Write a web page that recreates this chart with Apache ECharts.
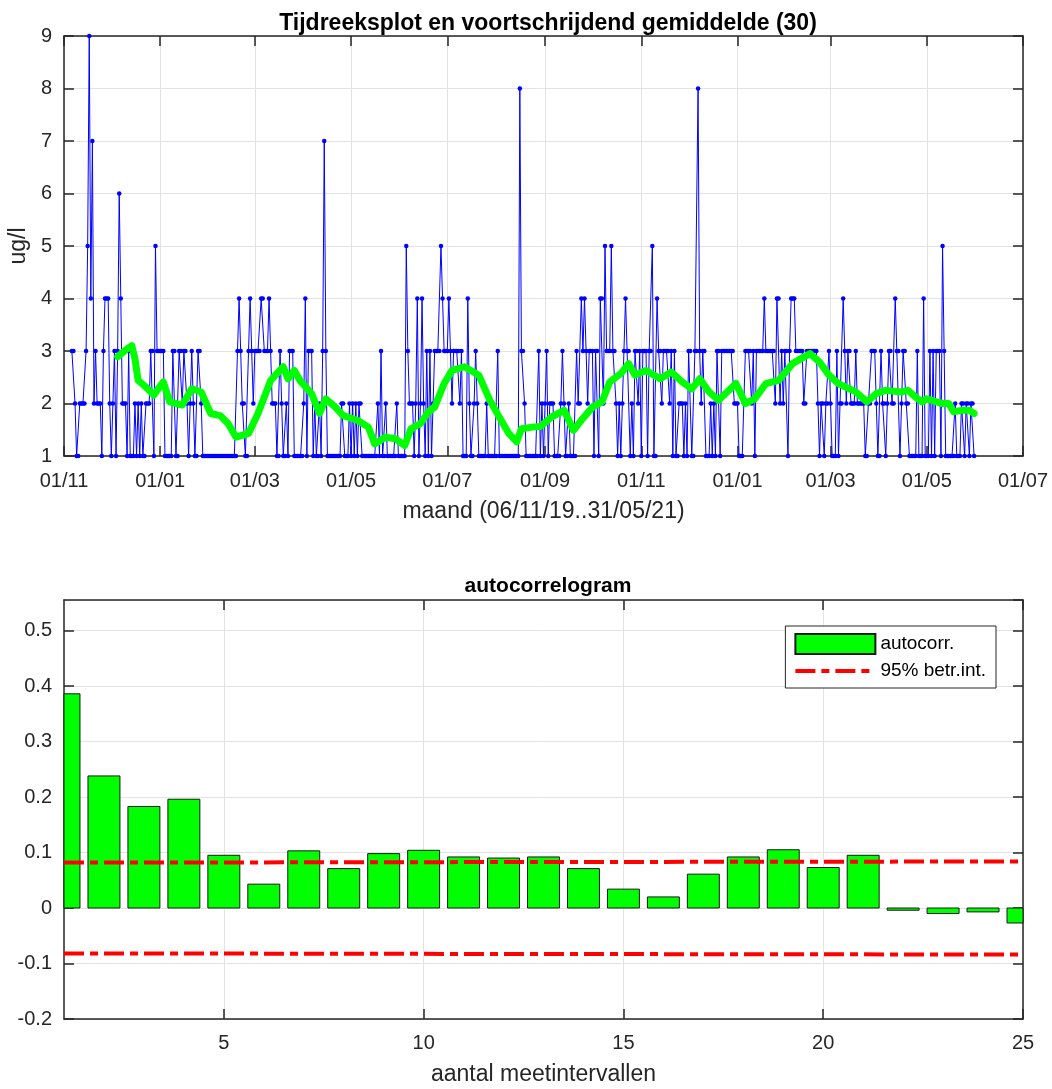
<!DOCTYPE html>
<html>
<head>
<meta charset="utf-8">
<script src="https://cdn.jsdelivr.net/npm/echarts@6/dist/echarts.min.js"></script>
<style>
html,body{margin:0;padding:0;background:#fff;}
#chart{width:1052px;height:1089px;}
</style>
</head>
<body>
<div id="chart"></div>
<script>
// ---------- DATA ----------
// x-axis tick positions and labels (top chart)
const xTickDates = ['2019-11-01','2020-01-01','2020-03-01','2020-05-01','2020-07-01','2020-09-01','2020-11-01','2021-01-01','2021-03-01','2021-05-01','2021-07-01'];
const xTickLabels = ['01/11','01/01','01/03','01/05','01/07','01/09','01/11','01/01','01/03','01/05','01/07'];
const yTickTop = [1,2,3,4,5,6,7,8,9];

// daily measurements (ug/l), first value on 2019-11-06
const seriesStart = '2019-11-06';
const measValues = [
  3,3,2,1,1,2,2,2,2,3,
  5,9,4,7,2,3,2,2,2,1,
  3,4,4,4,2,1,2,3,1,3,
  6,4,2,2,2,1,3,1,1,1,
  2,1,2,1,2,1,1,2,2,2,
  3,3,1,5,3,3,3,3,3,1,
  1,1,1,1,3,3,1,1,3,3,
  2,3,3,2,1,2,3,2,1,1,
  3,3,2,1,1,1,1,1,1,1,
  1,1,1,1,1,1,1,1,1,1,
  1,1,1,1,1,3,4,3,2,2,
  1,1,3,4,3,2,3,3,3,3,
  4,4,3,3,3,4,3,2,2,2,
  1,1,3,2,1,1,2,1,3,3,
  3,1,1,1,1,1,1,2,4,1,
  3,3,3,1,2,1,1,2,1,3,
  7,3,1,1,1,1,1,1,1,1,
  1,2,2,1,1,1,2,1,2,1,
  2,1,2,2,1,1,1,1,1,1,
  1,1,1,1,2,1,3,1,1,2,
  1,1,1,1,1,1,2,1,1,1,
  1,1,5,3,2,2,2,1,2,4,
  1,2,4,2,1,3,1,3,1,2,
  3,3,3,3,5,4,3,3,3,4,
  3,2,3,3,3,3,2,3,1,1,
  1,4,2,1,1,2,3,2,1,1,
  1,1,1,2,1,1,1,1,1,1,
  3,1,1,1,1,1,1,1,1,1,
  1,1,1,1,8,3,3,2,1,1,
  1,1,1,1,1,1,3,1,2,1,
  2,3,1,2,2,2,1,1,1,1,
  2,3,2,1,1,2,1,1,1,1,
  3,2,2,4,3,4,3,2,3,3,
  3,1,3,3,1,4,4,2,5,3,
  3,3,5,3,3,2,1,2,1,2,
  3,4,3,3,1,2,1,3,3,2,
  3,1,3,3,3,1,3,3,5,1,
  1,4,3,3,2,3,3,3,3,2,
  3,1,3,1,1,2,2,2,1,2,
  1,3,3,1,1,3,3,8,3,2,
  3,3,1,1,1,2,1,2,1,3,
  3,1,3,3,3,3,3,3,3,3,
  2,2,2,1,1,1,2,3,3,3,
  3,2,3,1,3,3,3,3,3,4,
  3,3,3,3,3,3,2,4,4,2,
  3,2,3,3,1,3,4,4,4,3,
  3,3,3,3,2,2,3,3,3,3,
  3,3,3,2,1,2,2,1,2,2,
  3,2,1,1,1,3,1,2,2,4,
  3,2,3,3,2,2,2,3,2,2,
  2,2,2,1,1,2,2,3,3,3,
  2,1,1,3,2,2,1,2,3,3,
  2,2,4,3,3,1,2,3,3,2,
  2,1,1,1,1,1,3,1,1,1,
  4,1,1,1,3,1,3,1,3,3,
  3,1,5,3,1,1,1,1,1,1,
  2,1,1,1,2,2,1,2,2,1,
  2,2,1
];

// moving average (30)
const maDates = ['2019-12-05','2019-12-11','2019-12-14','2019-12-16','2019-12-18','2019-12-23','2019-12-28','2019-12-30',
  '2020-01-03','2020-01-07','2020-01-15','2020-01-21','2020-01-27','2020-02-02','2020-02-08','2020-02-13','2020-02-18','2020-02-26',
  '2020-03-03','2020-03-11','2020-03-19','2020-03-22','2020-03-26','2020-03-30','2020-04-06','2020-04-11','2020-04-15','2020-04-21','2020-04-26',
  '2020-05-05','2020-05-12','2020-05-16','2020-05-23','2020-05-29','2020-06-04','2020-06-08','2020-06-14','2020-06-19','2020-06-23','2020-06-29',
  '2020-07-04','2020-07-12','2020-07-21','2020-07-28','2020-08-03','2020-08-09','2020-08-14','2020-08-17','2020-08-24','2020-08-29',
  '2020-09-05','2020-09-13','2020-09-19','2020-09-24','2020-10-01','2020-10-07','2020-10-12','2020-10-19','2020-10-24','2020-10-28',
  '2020-11-04','2020-11-13','2020-11-20','2020-11-27','2020-12-03','2020-12-08','2020-12-14','2020-12-20','2020-12-31',
  '2021-01-06','2021-01-12','2021-01-19','2021-01-27','2021-02-05','2021-02-10','2021-02-16','2021-02-22','2021-02-28',
  '2021-03-06','2021-03-17','2021-03-24','2021-03-30','2021-04-05','2021-04-15','2021-04-19','2021-04-24','2021-04-28',
  '2021-05-01','2021-05-07','2021-05-11','2021-05-15','2021-05-18','2021-05-23','2021-05-28','2021-05-31'];
const maValues = [2.89,3.04,3.10,2.85,2.44,2.31,2.16,2.25,
  2.41,2.03,1.97,2.28,2.22,1.81,1.77,1.62,1.36,1.43,
  1.81,2.44,2.70,2.47,2.63,2.42,2.19,1.81,2.09,1.93,1.77,
  1.68,1.55,1.23,1.36,1.33,1.20,1.52,1.62,1.84,1.93,2.38,
  2.63,2.70,2.54,2.06,1.74,1.43,1.27,1.52,1.55,1.56,
  1.74,1.87,1.49,1.68,1.93,2.03,2.41,2.57,2.76,2.54,
  2.63,2.47,2.60,2.41,2.28,2.47,2.22,2.06,2.38,
  2.00,2.09,2.38,2.44,2.76,2.85,2.95,2.79,2.54,
  2.38,2.22,2.03,2.19,2.25,2.22,2.25,2.12,2.03,
  2.09,2.03,2.00,2.00,1.84,1.87,1.87,1.81];

// autocorrelogram
const lags = ['1','2','3','4','5','6','7','8','9','10','11','12','13','14','15','16','17','18','19','20','21','22','23','24','25'];
const lagTickLabels = ['5','10','15','20','25'];
const acfValues = [0.386,0.238,0.183,0.196,0.095,0.043,0.103,0.071,0.098,0.104,0.092,0.090,0.092,0.071,0.034,0.020,0.061,0.092,0.105,0.073,0.095,-0.004,-0.010,-0.007,-0.027];
const confUpper = [0.082,0.082,0.082,0.082,0.0822,0.0822,0.0823,0.0824,0.0825,0.0826,0.0827,0.0828,0.0829,0.083,0.083,0.0831,0.0832,0.0833,0.0834,0.0835,0.0835,0.0836,0.0837,0.0837,0.0838];
const confLower = [-0.082,-0.082,-0.082,-0.082,-0.0822,-0.0822,-0.0823,-0.0824,-0.0825,-0.0826,-0.0827,-0.0828,-0.0829,-0.083,-0.083,-0.0831,-0.0832,-0.0833,-0.0834,-0.0835,-0.0835,-0.0836,-0.0837,-0.0837,-0.0838];

// ---------- BUILD ----------
const DAY = 86400000;
function pad(n){return (n<10?'0':'')+n;}
function fmtDate(t){const d=new Date(t);return d.getUTCFullYear()+'-'+pad(d.getUTCMonth()+1)+'-'+pad(d.getUTCDate());}
function parseDate(s){const p=s.split('-');return Date.UTC(+p[0],+p[1]-1,+p[2]);}

const dayCats = [];
for (let t = parseDate(xTickDates[0]); t <= parseDate(xTickDates[xTickDates.length-1]); t += DAY) dayCats.push(fmtDate(t));
const tickSet = new Set(xTickDates);
const tickLabelMap = {};
xTickDates.forEach((d,i)=>{tickLabelMap[d]=xTickLabels[i];});
const t0 = parseDate(seriesStart);
const measData = measValues.map((v,i)=>[fmtDate(t0+i*DAY), v]);
const maData = maDates.map((d,i)=>[d, maValues[i]]);
const lagTickSet = new Set(lagTickLabels);
const acfData = acfValues.map((v,i)=>[i, v]);

const FONT = 'Liberation Sans, Arial, sans-serif';
const TXT = '#262626';
const FRAME = {show:true, onZero:false, lineStyle:{color:TXT, width:1.5}};
const GRIDLINE = {show:true, lineStyle:{color:'#e3e3e3', width:1}};
const LBL = {color:TXT, fontSize:20, fontFamily:FONT};
const NAME = {fontSize:23, color:TXT, fontFamily:FONT};
const DASHDOT = [20,6,8,6];

function renderBar(params, api){
  const x = api.value(0), y = api.value(1);
  const p0 = api.coord([x, 0]);
  const p1 = api.coord([x, y]);
  const w = api.size([1, 0])[0] * 0.8;
  const cs = params.coordSys;
  const rect = echarts.graphic.clipRectByRect(
    {x:p0[0]-w/2, y:Math.min(p0[1],p1[1]), width:w, height:Math.abs(p1[1]-p0[1])},
    {x:cs.x, y:cs.y, width:cs.width, height:cs.height});
  return rect && {type:'rect', shape:rect, style:api.style()};
}

const chart = echarts.init(document.getElementById('chart'), null, {renderer:'canvas'});
const option = {
  backgroundColor:'#ffffff',
  animation:false,
  title:[
    {text:'Tijdreeksplot en voortschrijdend gemiddelde (30)', left:543, top:7, textAlign:'center',
     textStyle:{fontSize:23, fontWeight:'bold', color:'#000', fontFamily:FONT}},
    {text:'autocorrelogram', left:543, top:571, textAlign:'center',
     textStyle:{fontSize:21, fontWeight:'bold', color:'#000', fontFamily:FONT}}
  ],
  legend:{
    data:[{name:'autocorr.', icon:'rect'},
          {name:'95% betr.int.', itemStyle:{color:'rgba(0,0,0,0)', borderColor:'rgba(0,0,0,0)', borderWidth:0},
           lineStyle:{width:4, type:DASHDOT, color:'#ff0000'}}],
    orient:'vertical', right:56, top:626,
    itemWidth:80, itemHeight:20, itemGap:6,
    padding:[7,10,7,8],
    backgroundColor:'#fff', borderColor:TXT, borderWidth:1, borderRadius:0,
    textStyle:{fontSize:19, lineHeight:20, color:'#000', fontFamily:FONT}
  },
  grid:[
    {left:64, right:29, top:36, height:420, containLabel:false, outerBoundsMode:'none'},
    {left:64, right:29, top:600, height:419, containLabel:false, outerBoundsMode:'none'}
  ],
  xAxis:[
    {type:'category', gridIndex:0, data:dayCats, boundaryGap:false,
     axisLine:FRAME,
     axisTick:{show:true, inside:true, length:10, interval:(i,v)=>tickSet.has(v), lineStyle:{color:TXT,width:1.5}},
     axisLabel:Object.assign({interval:(i,v)=>tickSet.has(v), formatter:(v)=>tickLabelMap[v]||'', margin:15}, LBL),
     splitLine:Object.assign({interval:(i,v)=>tickSet.has(v)}, GRIDLINE),
     name:'maand (06/11/19..31/05/21)', nameLocation:'middle', nameGap:44, nameTextStyle:NAME},
    {type:'category', gridIndex:0, position:'top', data:dayCats, boundaryGap:false,
     axisLine:FRAME,
     axisTick:{show:true, inside:true, length:10, interval:(i,v)=>tickSet.has(v), lineStyle:{color:TXT,width:1.5}},
     axisLabel:{show:false}, splitLine:{show:false}},
    {type:'category', gridIndex:1, data:lags, boundaryGap:false,
     axisLine:FRAME,
     axisTick:{show:true, inside:true, length:10, interval:(i,v)=>lagTickSet.has(v), lineStyle:{color:TXT,width:1.5}},
     axisLabel:Object.assign({interval:(i,v)=>lagTickSet.has(v), margin:14}, LBL),
     splitLine:Object.assign({interval:(i,v)=>lagTickSet.has(v)}, GRIDLINE),
     name:'aantal meetintervallen', nameLocation:'middle', nameGap:44, nameTextStyle:NAME},
    {type:'category', gridIndex:1, position:'top', data:lags, boundaryGap:false,
     axisLine:FRAME,
     axisTick:{show:true, inside:true, length:10, interval:(i,v)=>lagTickSet.has(v), lineStyle:{color:TXT,width:1.5}},
     axisLabel:{show:false}, splitLine:{show:false}}
  ],
  yAxis:[
    {type:'value', gridIndex:0, min:yTickTop[0], max:yTickTop[yTickTop.length-1], interval:1,
     axisLine:FRAME,
     axisTick:{show:true, inside:true, length:10, lineStyle:{color:TXT,width:1.5}},
     axisLabel:Object.assign({margin:12}, LBL),
     splitLine:GRIDLINE,
     name:'ug/l', nameLocation:'middle', nameGap:29, nameRotate:90, nameTextStyle:NAME},
    {type:'value', gridIndex:0, position:'right', min:yTickTop[0], max:yTickTop[yTickTop.length-1], interval:1,
     axisLine:FRAME,
     axisTick:{show:true, inside:true, length:10, lineStyle:{color:TXT,width:1.5}},
     axisLabel:{show:false}, splitLine:{show:false}},
    {type:'value', gridIndex:1, min:-0.2, max:0.555, interval:0.1,
     axisLine:FRAME,
     axisTick:{show:true, inside:true, length:10, lineStyle:{color:TXT,width:1.5}},
     axisLabel:Object.assign({margin:12, showMaxLabel:false,
       formatter:(v)=>{const r=Math.round(v*10);return Math.abs(v*10-r)<1e-6?String(r/10):'';}}, LBL),
     splitLine:GRIDLINE},
    {type:'value', gridIndex:1, position:'right', min:-0.2, max:0.555, interval:0.1,
     axisLine:FRAME,
     axisTick:{show:true, inside:true, length:10, lineStyle:{color:TXT,width:1.5}},
     axisLabel:{show:false}, splitLine:{show:false}}
  ],
  series:[
    {name:'meting', type:'line', xAxisIndex:0, yAxisIndex:0, data:measData,
     showSymbol:true, showAllSymbol:true, symbol:'circle', symbolSize:4.5,
     lineStyle:{color:'#0000ff', width:1}, itemStyle:{color:'#0000ff'}, z:2, silent:true},
    {name:'gemiddelde', type:'line', xAxisIndex:0, yAxisIndex:0, data:maData,
     showSymbol:false, symbol:'none', smooth:false,
     lineStyle:{color:'#00ff00', width:7, cap:'round', join:'round'}, itemStyle:{color:'#00ff00'}, z:3, silent:true},
    {name:'autocorr.', type:'custom', xAxisIndex:2, yAxisIndex:2, data:acfData,
     encode:{x:0, y:1}, renderItem:renderBar,
     itemStyle:{color:'#00ff00', borderColor:'#1a1a1a', borderWidth:1}, z:2, silent:true},
    {name:'95% betr.int.', type:'line', xAxisIndex:2, yAxisIndex:2, data:confUpper, symbol:'none', showSymbol:false,
     lineStyle:{color:'#ff0000', width:4, type:DASHDOT}, itemStyle:{color:'#ff0000'}, z:4, silent:true},
    {name:'95% betr.int.', type:'line', xAxisIndex:2, yAxisIndex:2, data:confLower, symbol:'none', showSymbol:false,
     lineStyle:{color:'#ff0000', width:4, type:DASHDOT}, itemStyle:{color:'#ff0000'}, z:4, silent:true}
  ]
};
chart.setOption(option);
</script>
</body>
</html>
